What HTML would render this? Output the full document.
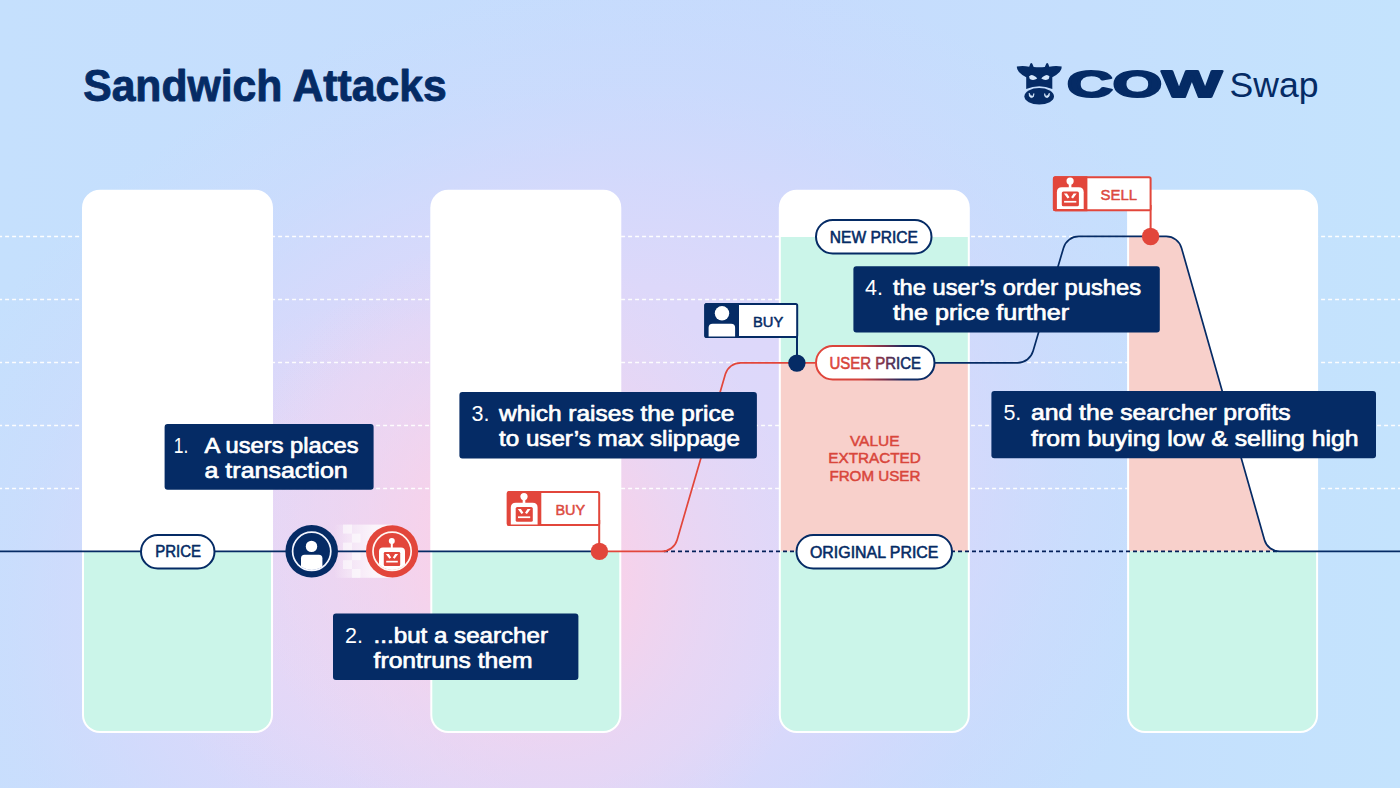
<!DOCTYPE html>
<html lang="en">
<head>
<meta charset="utf-8">
<title>Sandwich Attacks</title>
<style>
html,body{margin:0;padding:0;}
body{width:1400px;height:788px;overflow:hidden;background:#c5dffc;font-family:"Liberation Sans",sans-serif;}
svg{display:block;position:absolute;left:0;top:0;}
text{font-family:"Liberation Sans",sans-serif;}
.bx{fill:#fff;font-weight:400;font-size:22px;stroke:#fff;stroke-width:0.7px;stroke-linejoin:round;}
.nm{fill:#fff;font-weight:400;font-size:21.5px;}
.pl{font-weight:400;font-size:15.6px;stroke-width:0.55px;stroke-linejoin:round;}
.pn{fill:#052b65;stroke:#052b65;}
.pr{fill:#dc4a3f;stroke:#dc4a3f;}
</style>
</head>
<body>
<svg width="1400" height="788" viewBox="0 0 1400 788">
<defs>
  <linearGradient id="bgBase" gradientUnits="userSpaceOnUse" x1="0" y1="0" x2="1400" y2="0">
    <stop offset="0" stop-color="#c5e0fd"/>
    <stop offset="0.55" stop-color="#c6dbfd"/>
    <stop offset="1" stop-color="#c4e3fd"/>
  </linearGradient>
  <radialGradient id="bgLilac" gradientUnits="userSpaceOnUse" cx="0" cy="0" r="1" gradientTransform="translate(545 540) skewX(-13) scale(660 570)">
    <stop offset="0" stop-color="#dfd8fa" stop-opacity="1"/>
    <stop offset="0.45" stop-color="#ddd8fa" stop-opacity="1"/>
    <stop offset="0.62" stop-color="#d9d8fb" stop-opacity="0.75"/>
    <stop offset="0.8" stop-color="#d4d8fc" stop-opacity="0.32"/>
    <stop offset="1" stop-color="#d0d8fc" stop-opacity="0"/>
  </radialGradient>
  <radialGradient id="bgPink" gradientUnits="userSpaceOnUse" cx="0" cy="0" r="1" gradientTransform="translate(528 560) skewX(6) scale(280 320)">
    <stop offset="0" stop-color="#fbd0e6" stop-opacity="1"/>
    <stop offset="0.3" stop-color="#fad1e8" stop-opacity="0.92"/>
    <stop offset="0.62" stop-color="#f5d3ec" stop-opacity="0.45"/>
    <stop offset="1" stop-color="#f0d5ee" stop-opacity="0"/>
  </radialGradient>
  <radialGradient id="bgPink2" gradientUnits="userSpaceOnUse" cx="0" cy="0" r="1" gradientTransform="translate(370 570) scale(240 270)">
    <stop offset="0" stop-color="#f5d5ee" stop-opacity="0.5"/>
    <stop offset="0.5" stop-color="#f3d6f0" stop-opacity="0.34"/>
    <stop offset="1" stop-color="#f0d6f0" stop-opacity="0"/>
  </radialGradient>
  <linearGradient id="upGrad" gradientUnits="userSpaceOnUse" x1="815" y1="0" x2="935" y2="0">
    <stop offset="0" stop-color="#e2463b"/>
    <stop offset="0.38" stop-color="#d2423c"/>
    <stop offset="0.58" stop-color="#7a2f4a"/>
    <stop offset="0.74" stop-color="#142a62"/>
    <stop offset="1" stop-color="#052b65"/>
  </linearGradient>
  <clipPath id="c1"><rect x="84" y="191.7" width="187" height="539.3" rx="16"/></clipPath>
  <clipPath id="c2"><rect x="432.3" y="191.7" width="187" height="539.3" rx="16"/></clipPath>
  <clipPath id="c3"><rect x="780.8" y="191.7" width="187" height="539.3" rx="16"/></clipPath>
  <clipPath id="c4"><rect x="1129.1" y="191.7" width="187" height="539.3" rx="16"/></clipPath>
</defs>

<!-- background -->
<rect width="1400" height="788" fill="url(#bgBase)"/>
<rect width="1400" height="788" fill="url(#bgLilac)"/>
<rect width="1400" height="788" fill="url(#bgPink2)"/>
<rect width="1400" height="788" fill="url(#bgPink)"/>

<!-- white dashed guides -->
<g stroke="#fff" stroke-width="1.6" stroke-dasharray="4 3" stroke-dashoffset="1.9" fill="none" opacity="0.95">
  <line x1="0" y1="236.5" x2="1400" y2="236.5"/>
  <line x1="0" y1="299.5" x2="1400" y2="299.5"/>
  <line x1="0" y1="362.5" x2="1400" y2="362.5"/>
  <line x1="0" y1="425.5" x2="1400" y2="425.5"/>
  <line x1="0" y1="488.5" x2="1400" y2="488.5"/>
</g>

<!-- columns -->
<g>
  <rect x="82" y="189.7" width="191" height="543.3" rx="18" fill="#fff"/>
  <rect x="430.3" y="189.7" width="191" height="543.3" rx="18" fill="#fff"/>
  <rect x="778.8" y="189.7" width="191" height="543.3" rx="18" fill="#fff"/>
  <rect x="1127.1" y="189.7" width="191" height="543.3" rx="18" fill="#fff"/>
  <rect x="82" y="551.4" width="191" height="200" fill="#cbf5e9" clip-path="url(#c1)"/>
  <rect x="430" y="551.4" width="192" height="200" fill="#cbf5e9" clip-path="url(#c2)"/>
  <g clip-path="url(#c3)">
    <rect x="778" y="237" width="193" height="126.5" fill="#cbf5e9"/>
    <rect x="778" y="363.3" width="193" height="188.5" fill="#f8d0cb"/>
    <rect x="778" y="551.4" width="193" height="200" fill="#cbf5e9"/>
  </g>
  <g clip-path="url(#c4)">
    <path d="M1120.0 236.4 L1166.2 236.4 C1173.4 236.4 1179.5 241.0 1181.5 247.9 L1264.5 539.9 C1266.5 546.8 1272.6 551.4 1279.8 551.4 L1120 551.4 Z" fill="#f8d0cb"/>
    <rect x="1127" y="551.4" width="191" height="200" fill="#cbf5e9"/>
  </g>
</g>

<!-- motion trail -->
<linearGradient id="trail" gradientUnits="userSpaceOnUse" x1="334" y1="0" x2="374" y2="0">
  <stop offset="0" stop-color="#fff" stop-opacity="0"/>
  <stop offset="0.35" stop-color="#fff" stop-opacity="0.35"/>
  <stop offset="1" stop-color="#fff" stop-opacity="0.75"/>
</linearGradient>
<rect x="334" y="524.6" width="58" height="53.2" fill="url(#trail)"/>
<g fill="#fff" opacity="0.55">
  <rect x="343" y="524.6" width="9" height="9"/>
  <rect x="352" y="533.6" width="8.5" height="9"/>
  <rect x="343" y="542.6" width="9" height="8.6"/>
  <rect x="352" y="551.2" width="8.5" height="9"/>
  <rect x="343" y="560.2" width="9" height="8.8"/>
  <rect x="352" y="569" width="8.5" height="8.8"/>
</g>

<!-- price lines -->
<g fill="none" stroke-width="1.7">
  <path d="M0 551.4 H599" stroke="#052b65"/>
  <path d="M664 551.4 H1277" stroke="#04205a" stroke-width="1.6" stroke-dasharray="4 3"/>
  <path d="M599.4 551.4 L661.7 551.4 C668.9 551.4 675.0 546.8 677.1 539.9 L725.4 374.1 C727.5 367.2 733.6 362.8 740.8 362.8 L815.0 362.8" stroke="#e2463b"/>
  <path d="M935.0 362.8 L1017.7 362.8 C1024.9 362.8 1031.1 358.0 1033.1 351.1 L1063.5 247.9 C1065.5 241.0 1071.7 236.4 1078.9 236.4 L1166.2 236.4 C1173.4 236.4 1179.5 241.0 1181.5 247.9 L1264.5 539.9 C1266.5 546.8 1272.6 551.4 1279.8 551.4 L1400.0 551.4" stroke="#052b65"/>
</g>

<!-- pills -->
<g stroke-width="2" fill="#fff">
  <rect x="141" y="535" width="73.5" height="33.5" rx="16.75" stroke="#052b65"/>
  <rect x="796.5" y="535" width="155.5" height="33.5" rx="16.75" stroke="#052b65"/>
  <rect x="816" y="220" width="115.5" height="33.5" rx="16.75" stroke="#052b65"/>
  <rect x="816" y="346" width="118.5" height="33.5" rx="16.75" stroke="url(#upGrad)"/>
</g>
<text class="pl pn" x="155.3" y="557.4" textLength="45.8" lengthAdjust="spacingAndGlyphs">PRICE</text>
<text class="pl pn" x="810" y="557.5" textLength="128.4" lengthAdjust="spacingAndGlyphs">ORIGINAL PRICE</text>
<text class="pl pn" x="829.8" y="242.6" textLength="88.2" lengthAdjust="spacingAndGlyphs">NEW PRICE</text>
<text class="pl" x="829.5" y="368.5" fill="url(#upGrad)" stroke="url(#upGrad)" textLength="91.5" lengthAdjust="spacingAndGlyphs">USER PRICE</text>

<!-- value extracted -->
<g fill="#d9463b" stroke="#d9463b" stroke-width="0.5" font-size="15.5px" text-anchor="middle">
  <text x="874.7" y="445.6" textLength="49.6" lengthAdjust="spacingAndGlyphs">VALUE</text>
  <text x="874.5" y="463.3" textLength="92.4" lengthAdjust="spacingAndGlyphs">EXTRACTED</text>
  <text x="874.9" y="480.6" textLength="91" lengthAdjust="spacingAndGlyphs">FROM USER</text>
</g>

<!-- user circle -->
<g>
  <circle cx="311.7" cy="551.3" r="26.3" fill="#052b65"/>
  <clipPath id="uc"><circle cx="311.7" cy="551.3" r="18.6"/></clipPath>
  <g clip-path="url(#uc)" fill="#fff">
    <circle cx="311.5" cy="546.4" r="5.7"/>
    <rect x="301" y="554.8" width="21.4" height="22" rx="3.5"/>
  </g>
  <circle cx="311.7" cy="551.3" r="19.1" fill="none" stroke="#f4f6ff" stroke-width="1.7"/>
</g>
<!-- searcher circle -->
<g>
  <circle cx="392.1" cy="551.3" r="26.1" fill="#e2463b"/>
  <clipPath id="sc"><circle cx="392.1" cy="551.3" r="18.6"/></clipPath>
  <g clip-path="url(#sc)">
    <circle cx="391.8" cy="541" r="3" fill="#fff"/>
    <rect x="390.8" y="541" width="2" height="8" fill="#fff"/>
    <rect x="379" y="547.6" width="26" height="30" rx="4" fill="#fff"/>
    <rect x="383.8" y="552" width="16.4" height="14" rx="1.2" fill="#e2463b"/>
    <path d="M385.9 554 L388.9 554 L391.2 557.6 L389.4 558.8 Z M398.1 554 L395.1 554 L392.8 557.6 L394.6 558.8 Z" fill="#fff"/>
    <rect x="386.2" y="560.8" width="11.6" height="1.7" fill="#fff"/>
  </g>
  <circle cx="392.1" cy="551.3" r="19.1" fill="none" stroke="#fff6f2" stroke-width="1.7"/>
</g>

<!-- red BUY tag -->
<g>
  <rect x="598.2" y="520" width="2" height="32" fill="#e2463b"/>
  <rect x="507.8" y="491.9" width="91.4" height="33" rx="1.5" fill="#fff" stroke="#e2463b" stroke-width="2"/>
  <path d="M509.3 490.9 H541.3 V525.9 H509.3 Q506.8 525.9 506.8 523.4 V493.4 Q506.8 490.9 509.3 490.9 Z" fill="#e2463b"/>
  <g id="robot">
    <circle cx="524" cy="496.6" r="3.6" fill="#fff"/>
    <rect x="522.7" y="497" width="2.6" height="7" fill="#fff"/>
    <path d="M510.8 524.4 V507.7 Q510.8 502.7 515.8 502.7 H532.6 Q537.6 502.7 537.6 507.7 V524.4 Z" fill="#fff"/>
    <rect x="515.7" y="507" width="17.1" height="14.8" rx="1.6" fill="#e2463b"/>
    <path d="M517.8 509 L520.9 509 L523.4 512.8 L521.5 514 Z M530.6 509 L527.5 509 L525 512.8 L526.9 514 Z" fill="#fff"/>
    <rect x="518" y="516.4" width="12.2" height="1.7" fill="#fff"/>
  </g>
  <text class="pl pr" x="555.4" y="514.6" style="stroke-width:0.5px;font-size:15.2px" textLength="29.8" lengthAdjust="spacingAndGlyphs">BUY</text>
  <circle cx="599.4" cy="551.4" r="8.7" fill="#e2463b"/>
</g>

<!-- SELL tag -->
<g>
  <rect x="1149.6" y="205" width="2" height="32" fill="#e2463b"/>
  <rect x="1053.9" y="177.3" width="96.7" height="33" rx="1.5" fill="#fff" stroke="#e2463b" stroke-width="2"/>
  <path d="M1055.4 176.3 H1087.4 V211.3 H1055.4 Q1052.9 211.3 1052.9 208.8 V178.8 Q1052.9 176.3 1055.4 176.3 Z" fill="#e2463b"/>
  <g transform="translate(546.1 -315.5)">
    <circle cx="524" cy="496.6" r="3.6" fill="#fff"/>
    <rect x="522.7" y="497" width="2.6" height="7" fill="#fff"/>
    <path d="M510.8 524.4 V507.7 Q510.8 502.7 515.8 502.7 H532.6 Q537.6 502.7 537.6 507.7 V524.4 Z" fill="#fff"/>
    <rect x="515.7" y="507" width="17.1" height="14.8" rx="1.6" fill="#e2463b"/>
    <path d="M517.8 509 L520.9 509 L523.4 512.8 L521.5 514 Z M530.6 509 L527.5 509 L525 512.8 L526.9 514 Z" fill="#fff"/>
    <rect x="518" y="516.4" width="12.2" height="1.7" fill="#fff"/>
  </g>
  <text class="pl pr" x="1100.6" y="199.7" style="stroke-width:0.5px;font-size:15.2px" textLength="36.5" lengthAdjust="spacingAndGlyphs">SELL</text>
  <circle cx="1150.6" cy="236.5" r="8.7" fill="#e2463b"/>
</g>

<!-- navy BUY tag -->
<g>
  <rect x="796" y="332" width="2" height="31" fill="#052b65"/>
  <rect x="705.3" y="303.9" width="91.9" height="33.1" rx="1.5" fill="#fff" stroke="#052b65" stroke-width="2"/>
  <path d="M706.8 302.9 H739 V338 H706.8 Q704.3 338 704.3 335.5 V305.4 Q704.3 302.9 706.8 302.9 Z" fill="#052b65"/>
  <circle cx="722" cy="313.3" r="7.2" fill="#fff"/>
  <path d="M708.6 336.6 V327.7 Q708.6 323.7 712.6 323.7 H731.1 Q735.1 323.7 735.1 327.7 V336.6 Z" fill="#fff"/>
  <text class="pl pn" x="753" y="326.5" style="stroke-width:0.5px;font-size:15.2px" textLength="30.3" lengthAdjust="spacingAndGlyphs">BUY</text>
  <circle cx="796.9" cy="363.1" r="8.7" fill="#052b65"/>
</g>

<!-- step boxes -->
<g>
  <rect x="164.6" y="424" width="209" height="65.8" rx="3" fill="#052b65"/>
  <text class="nm" x="173.8" y="452.5" textLength="14.6" lengthAdjust="spacingAndGlyphs">1.</text>
  <text class="bx" x="204.5" y="452.5" textLength="154" lengthAdjust="spacingAndGlyphs">A users places</text>
  <text class="bx" x="204.5" y="478" textLength="143.2" lengthAdjust="spacingAndGlyphs">a transaction</text>

  <rect x="333" y="613.6" width="245.4" height="66.4" rx="3" fill="#052b65"/>
  <text class="nm" x="345" y="642.6">2.</text>
  <text class="bx" x="373.6" y="642.6" textLength="174.4" lengthAdjust="spacingAndGlyphs">...but a searcher</text>
  <text class="bx" x="373.6" y="668" textLength="159" lengthAdjust="spacingAndGlyphs">frontruns them</text>

  <rect x="459.4" y="392.1" width="297.5" height="66.3" rx="3" fill="#052b65"/>
  <text class="nm" x="471.6" y="420.8">3.</text>
  <text class="bx" x="499" y="420.8" textLength="235.3" lengthAdjust="spacingAndGlyphs">which raises the price</text>
  <text class="bx" x="499" y="446.3" textLength="241" lengthAdjust="spacingAndGlyphs">to user’s max slippage</text>

  <rect x="853.4" y="266.3" width="306.4" height="66.3" rx="3" fill="#052b65"/>
  <text class="nm" x="865" y="295">4.</text>
  <text class="bx" x="893" y="295" textLength="248" lengthAdjust="spacingAndGlyphs">the user’s order pushes</text>
  <text class="bx" x="893" y="320.4" textLength="176" lengthAdjust="spacingAndGlyphs">the price further</text>

  <rect x="991.4" y="391" width="384.6" height="67.2" rx="3" fill="#052b65"/>
  <text class="nm" x="1003.4" y="420.1">5.</text>
  <text class="bx" x="1031" y="420.1" textLength="259.5" lengthAdjust="spacingAndGlyphs">and the searcher profits</text>
  <text class="bx" x="1031" y="445.6" textLength="327.6" lengthAdjust="spacingAndGlyphs">from buying low &amp; selling high</text>
</g>

<!-- title -->
<text x="83.2" y="100.8" fill="#052b65" stroke="#052b65" stroke-width="0.9" stroke-linejoin="round" font-weight="700" font-size="44.5px" textLength="363.5" lengthAdjust="spacingAndGlyphs">Sandwich Attacks</text>

<!-- logo -->
<g fill="#052b65">
  <g id="cow">
    <path d="M1016.9 66.5 Q1023 65.5 1029.2 66.7 L1030.3 63.7 Q1031.3 62.4 1032.3 63.7 L1033.7 66.9 Q1039.2 67.5 1044.8 66.9 L1046.2 63.7 Q1047.2 62.4 1048.2 63.7 L1049.3 66.7 Q1055.5 65.5 1061.7 66.5 Q1062.4 72 1052.3 77.2 V88.9 Q1039.2 83.4 1026.2 88.9 V77.2 Q1016.2 72 1016.9 66.5 Z"/>
    <ellipse cx="1039.2" cy="96.3" rx="14.8" ry="8.3"/>
    <path d="M1029 76.6 Q1030.5 74.4 1033.4 75.4 Q1036.6 76.6 1037.2 78.6 Q1034.6 80.4 1031.6 79.8 Q1029 79 1029 76.6 Z" fill="#d6e8fd"/>
    <path d="M1049.5 76.6 Q1048 74.4 1045.1 75.4 Q1041.9 76.6 1041.3 78.6 Q1043.9 80.4 1046.9 79.8 Q1049.5 79 1049.5 76.6 Z" fill="#d6e8fd"/>
    <path d="M1029.2 93.2 Q1030 96.4 1032.6 96.2 Q1034 95.4 1033.8 93.6 Q1034.4 97.6 1031.4 97.6 Q1028.6 97 1029.2 93.2 Z" fill="#d6e8fd" stroke="#d6e8fd" stroke-width="0.8"/>
    <path d="M1049.3 93.2 Q1048.5 96.4 1045.9 96.2 Q1044.5 95.4 1044.7 93.6 Q1044.1 97.6 1047.1 97.6 Q1049.9 97 1049.3 93.2 Z" fill="#d6e8fd" stroke="#d6e8fd" stroke-width="0.8"/>
  </g>
  <text x="1067" y="96.8" font-family="DejaVu Sans, Liberation Sans, sans-serif" font-weight="700" font-size="37px" stroke="#052b65" stroke-width="2.2" stroke-linejoin="round" textLength="155" lengthAdjust="spacingAndGlyphs">COW</text>
  <text x="1229.5" y="97" font-size="35.5px" textLength="89" lengthAdjust="spacingAndGlyphs">Swap</text>
</g>
</svg>
</body>
</html>
